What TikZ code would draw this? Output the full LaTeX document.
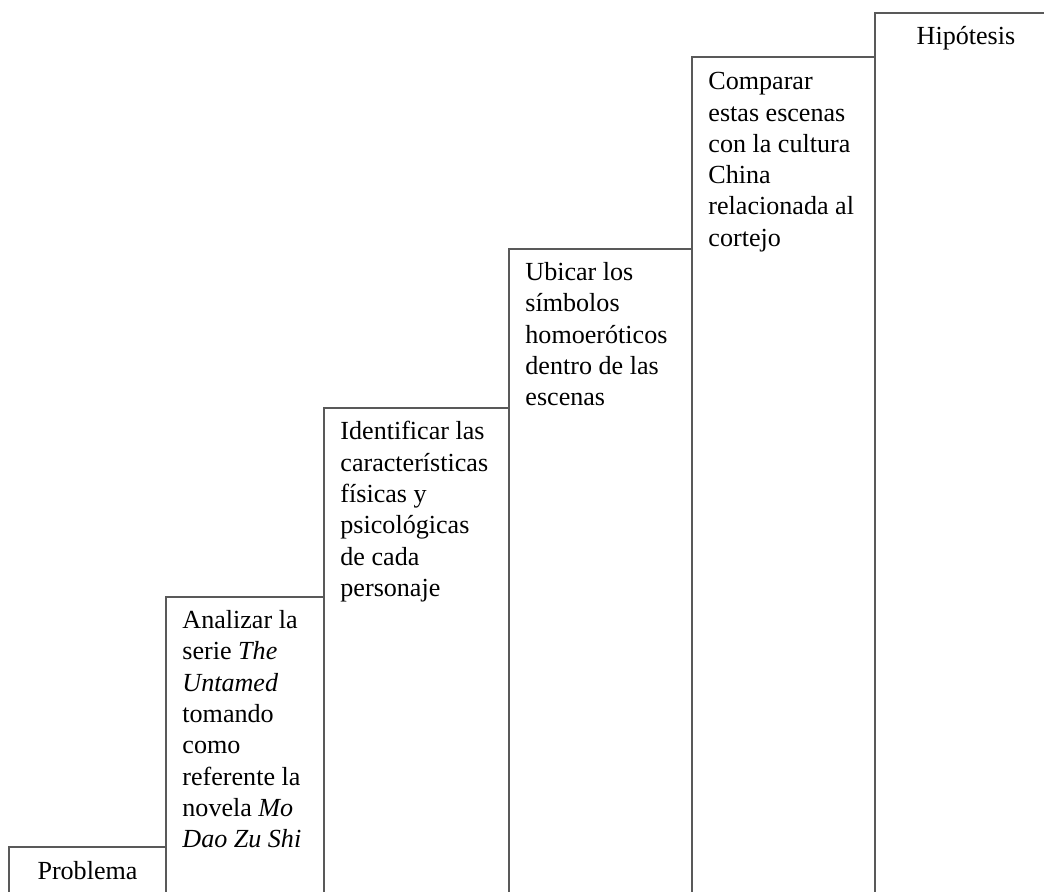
\documentclass[tikz,border=0pt]{standalone}
\usepackage{fontspec}
\setmainfont{Liberation Serif}
\usetikzlibrary{positioning}

\begin{document}
\begin{tikzpicture}[x=0.46pt, y=-0.46pt,
    caja/.style={draw=black!65, line width=0.5pt},
    texto/.style={anchor=north west, inner sep=0pt, align=left, font=\fontsize{12}{14.4}\selectfont},
    titulo/.style={anchor=base, inner sep=0pt, font=\fontsize{12}{14.4}\selectfont}]
    \useasboundingbox (0,0) rectangle (1044,892);
    \clip (0,0) rectangle (1044,892);
    % escalones
    \draw [caja] (9,847) rectangle (166,900);
    \draw [caja] (166,597) rectangle (324,900);
    \draw [caja] (324,408) rectangle (509,900);
    \draw [caja] (509,249) rectangle (692,900);
    \draw [caja] (692,57) rectangle (875,900);
    \draw [caja] (875,13) rectangle (1060,900);
    % textos
    \node [titulo] (problema) at (87.5,879) {Problema};
    \node [texto] (analizar) at (182,610) {Analizar la\\serie \textit{The}\\\textit{Untamed}\\tomando\\como\\referente la\\novela \textit{Mo}\\\textit{Dao Zu Shi}};
    \node [texto] (identificar) at (340,421) {Identificar las\\características\\físicas y\\psicológicas\\de cada\\personaje};
    \node [texto] (ubicar) at (525,262) {Ubicar los\\símbolos\\homoeróticos\\dentro de las\\escenas};
    \node [texto] (comparar) at (708,72) {Comparar\\estas escenas\\con la cultura\\China\\relacionada al\\cortejo};
    \node [titulo] (hipotesis) at (966,45) {Hipótesis};
\end{tikzpicture}
\end{document}
